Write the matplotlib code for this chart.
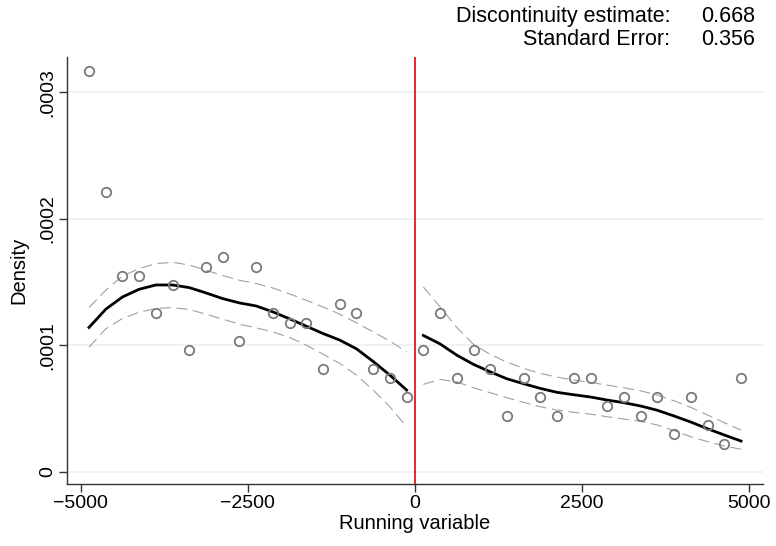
import matplotlib
matplotlib.use("Agg")
import matplotlib.pyplot as plt

plt.rcParams['font.family'] = ['Liberation Sans', 'DejaVu Sans']

# binned density (circles)
bin_left = [-4875, -4625, -4375, -4125, -3875, -3625, -3375, -3125, -2875, -2625,
            -2375, -2125, -1875, -1625, -1375, -1125, -875, -625, -375, -125]
dens_left = [0.000317, 0.000221, 0.0001547, 0.0001547, 0.0001253, 0.0001476, 0.0000958,
             0.0001621, 0.0001695, 0.0001032, 0.0001621, 0.0001253, 0.0001179, 0.0001179,
             0.0000811, 0.0001326, 0.0001253, 0.0000811, 0.0000737, 0.000059]
bin_right = [125, 375, 625, 875, 1125, 1375, 1625, 1875, 2125, 2375,
             2625, 2875, 3125, 3375, 3625, 3875, 4125, 4375, 4625, 4875]
dens_right = [0.0000958, 0.0001253, 0.0000737, 0.0000958, 0.0000811, 0.0000442, 0.0000737,
              0.000059, 0.0000442, 0.0000737, 0.0000737, 0.0000516, 0.000059, 0.0000442,
              0.000059, 0.0000295, 0.000059, 0.0000368, 0.0000221, 0.0000737]

# local linear fit and 95% bands
fit_left = [0.000114, 0.0001284, 0.0001381, 0.0001442, 0.0001476, 0.0001476, 0.0001455,
            0.0001413, 0.0001368, 0.0001334, 0.000131, 0.0001263, 0.0001208, 0.000115,
            0.0001092, 0.000104, 0.0000971, 0.0000871, 0.0000763, 0.0000645]
hi_left = [0.0001297, 0.0001434, 0.0001547, 0.0001605, 0.0001645, 0.0001655, 0.0001634,
           0.0001592, 0.000155, 0.0001513, 0.0001487, 0.0001452, 0.0001405, 0.0001355,
           0.0001302, 0.0001245, 0.0001176, 0.0001105, 0.0001032, 0.0000947]
lo_left = [0.0000984, 0.0001129, 0.0001211, 0.000126, 0.000129, 0.0001297, 0.0001282,
           0.0001245, 0.0001205, 0.0001166, 0.0001137, 0.0001105, 0.0001061, 0.0001,
           0.0000929, 0.0000856, 0.0000763, 0.0000645, 0.0000513, 0.0000355]
fit_right = [0.0001077, 0.000101, 0.0000921, 0.0000848, 0.0000789, 0.0000734, 0.0000695,
             0.0000658, 0.0000627, 0.0000608, 0.000059, 0.0000566, 0.0000545, 0.0000519,
             0.0000485, 0.000044, 0.0000392, 0.0000339, 0.000029, 0.0000242]
hi_right = [0.000146, 0.0001302, 0.000114, 0.0001006, 0.0000927, 0.0000866, 0.0000816,
            0.0000777, 0.0000747, 0.0000724, 0.0000706, 0.0000684, 0.0000663, 0.0000639,
            0.0000605, 0.000056, 0.0000508, 0.0000448, 0.0000387, 0.0000329]
lo_right = [0.000069, 0.0000729, 0.000071, 0.0000663, 0.0000624, 0.0000584, 0.0000548,
            0.0000513, 0.0000487, 0.0000469, 0.0000455, 0.0000434, 0.0000416, 0.0000398,
            0.0000369, 0.0000324, 0.0000276, 0.0000237, 0.0000203, 0.0000177]

xticks = [-5000, -2500, 0, 2500, 5000]
xtick_labels = ['\u22125000', '\u22122500', '0', '2500', '5000']
yticks = [0, 0.0001, 0.0002, 0.0003]
ytick_labels = ['0', '.0001', '.0002', '.0003']

fig = plt.figure(figsize=(7.76, 5.46), dpi=100)
ax = fig.add_axes([0.0867, 0.113, 0.8962, 0.783])

for y in yticks:
    ax.axhline(y, color='#e8eff2', lw=1.1, zorder=0)

dash = (0, (10, 5))
for xs, lo, fit, hi in [(bin_left, lo_left, fit_left, hi_left),
                        (bin_right, lo_right, fit_right, hi_right)]:
    ax.plot(xs, hi, color='#a0a0a0', lw=0.8, ls=dash, zorder=2)
    ax.plot(xs, lo, color='#a0a0a0', lw=0.8, ls=dash, zorder=2)
    ax.plot(xs, fit, color='black', lw=2.0, zorder=3)

ax.plot(bin_left + bin_right, dens_left + dens_right, 'o', mfc='none', mec='#7a7a7a',
        mew=1.3, ms=6.8, zorder=4, clip_on=False)

ax.axvline(0, color='#e8141c', lw=1.3, zorder=5)

ax.set_xlim(-5200, 5200)
ax.set_ylim(-0.00001, 0.000328)
ax.set_xticks(xticks)
ax.set_xticklabels(xtick_labels, fontsize=14)
ax.set_yticks(yticks)
ax.set_yticklabels(ytick_labels, rotation=90, va='center', fontsize=14)
ax.tick_params(length=6, width=1, color='#333333', pad=2)
for s in ['top', 'right']:
    ax.spines[s].set_visible(False)
for s in ['left', 'bottom']:
    ax.spines[s].set_color('#333333')
    ax.spines[s].set_linewidth(1)

ax.set_xlabel('Running variable', fontsize=14.5, labelpad=1)
ax.set_ylabel('Density', fontsize=14.5)
ax.yaxis.set_label_coords(-0.056, 0.5)

fig.text(0.864, 0.970, 'Discontinuity estimate:', ha='right', va='center', fontsize=15.5)
fig.text(0.864, 0.928, 'Standard Error:', ha='right', va='center', fontsize=15.5)
fig.text(0.973, 0.970, '0.668', ha='right', va='center', fontsize=15.5)
fig.text(0.973, 0.928, '0.356', ha='right', va='center', fontsize=15.5)

fig.savefig('out.png', dpi=100)
